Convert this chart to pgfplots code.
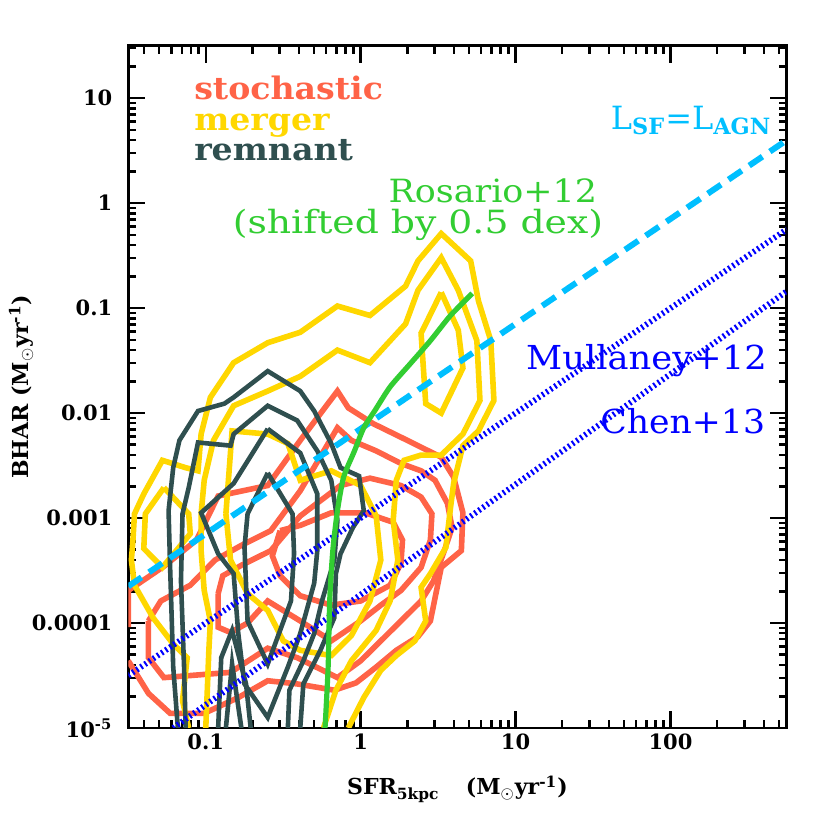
\documentclass[border=0pt]{standalone}
\usepackage{fontspec}
\setmainfont{DejaVu Serif}
\usepackage{pgfplots}
\pgfplotsset{compat=1.18}

\definecolor{stoch}{RGB}{255,99,71}
\definecolor{merg}{RGB}{255,215,0}
\definecolor{remn}{RGB}{47,79,79}
\definecolor{rosa}{RGB}{50,205,50}
\definecolor{lsf}{RGB}{0,191,255}
\definecolor{mull}{RGB}{0,0,255}

\begin{document}
\begin{tikzpicture}
\useasboundingbox (-64.15pt,-51pt) rectangle (350.85pt,364pt);
\begin{axis}[%
width=329.2pt,
height=341.15pt,
scale only axis,
xmin=-1.5, xmax=2.75,
ymin=-5, ymax=1.5,
axis line style={line width=1.3pt},
tick align=inside,
major tick length=8.5pt,
minor tick length=4pt,
every tick/.style={black, line width=1.2pt},
xtick={-1,0,1,2},
xticklabels={0.1,1,10,100},
minor xtick={-1.398,-1.301,-1.222,-1.155,-1.097,-1.046,
  -0.699,-0.523,-0.398,-0.301,-0.222,-0.155,-0.097,-0.046,
  0.301,0.477,0.602,0.699,0.778,0.845,0.903,0.954,
  1.301,1.477,1.602,1.699,1.778,1.845,1.903,1.954,
  2.301,2.477,2.602,2.699},
ytick={-5,-4,-3,-2,-1,0,1},
yticklabels={10\textsuperscript{-5},0.0001,0.001,0.01,0.1,1,10},
minor ytick={-4.699,-4.523,-4.398,-4.301,-4.222,-4.155,-4.097,-4.046,
  -3.699,-3.523,-3.398,-3.301,-3.222,-3.155,-3.097,-3.046,
  -2.699,-2.523,-2.398,-2.301,-2.222,-2.155,-2.097,-2.046,
  -1.699,-1.523,-1.398,-1.301,-1.222,-1.155,-1.097,-1.046,
  -0.699,-0.523,-0.398,-0.301,-0.222,-0.155,-0.097,-0.046,
  0.301,0.477,0.602,0.699,0.778,0.845,0.903,0.954,
  1.301,1.477},
ticklabel style={font=\fontsize{10.5}{12}\selectfont\bfseries},
xticklabel style={anchor=base, yshift=-11pt},
yticklabel style={anchor=east, xshift=-4.5pt},
xlabel={SFR\textsubscript{5kpc}\hspace{1.2em}(M$_\odot$yr\textsuperscript{-1})},
xlabel style={at={([yshift=-33.5pt]axis description cs:0.5,0)}, anchor=base,
  font=\fontsize{11}{13}\selectfont\bfseries},
ylabel={BHAR (M$_\odot$yr\textsuperscript{-1})},
ylabel style={at={([xshift=-50pt]axis description cs:0,0.5)}, anchor=base,
  font=\fontsize{11}{13}\selectfont\bfseries},
]

% stochastic contours
\addplot[stoch, line width=2.8pt] coordinates {
(-1.50,-4.04) (-1.50,-3.69) (-1.27,-3.46) (-1.06,-3.21) (-0.92,-2.79) (-0.60,-2.69)
(-0.39,-2.26) (-0.15,-1.79) (-0.08,-1.95) (0.08,-2.10) (0.26,-2.23) (0.52,-2.42)
(0.60,-2.61) (0.66,-2.95) (0.65,-3.31) (0.52,-3.47) (0.45,-3.98) (0.37,-4.13)
(0.23,-4.26) (0.10,-4.42) (-0.03,-4.57) (-0.17,-4.64) (-0.41,-4.58) (-0.60,-4.55)
(-0.79,-4.71) (-1.01,-4.86) (-1.23,-4.86) (-1.37,-4.67) (-1.50,-4.36)
};
\addplot[stoch, line width=2.8pt] coordinates {
(-1.37,-3.98) (-1.29,-3.79) (-1.10,-3.64) (-0.94,-3.40) (-0.77,-3.26) (-0.58,-3.12)
(-0.39,-2.74) (-0.15,-2.14) (-0.06,-2.26) (0.10,-2.36) (0.26,-2.48) (0.39,-2.55)
(0.48,-2.64) (0.56,-2.86) (0.59,-3.09) (0.54,-3.31) (0.47,-3.60) (0.39,-3.79)
(0.26,-3.98) (0.13,-4.17) (0,-4.36) (-0.15,-4.52) (-0.41,-4.33) (-0.60,-4.24)
(-0.84,-4.47) (-1.27,-4.52) (-1.37,-4.33) (-1.37,-3.98)
};
\addplot[stoch, line width=2.8pt] coordinates {
(-0.92,-3.72) (-0.89,-3.55) (-0.77,-3.45) (-0.58,-3.31) (-0.39,-2.98) (-0.13,-2.69)
(0.06,-2.62) (0.26,-2.69) (0.39,-2.80) (0.46,-2.96) (0.45,-3.21) (0.39,-3.47)
(0.26,-3.69) (0.13,-3.83) (0,-3.98) (-0.19,-4.17) (-0.39,-3.98) (-0.60,-3.79)
(-0.73,-4.00) (-0.84,-4.09) (-0.92,-4.04) (-0.92,-3.72)
};
\addplot[stoch, line width=2.8pt] coordinates {
(-0.52,-3.12) (-0.39,-3.07) (-0.19,-2.95) (0.03,-2.95) (0.21,-3.04) (0.27,-3.21)
(0.26,-3.43) (0.19,-3.64) (0,-3.79) (-0.19,-3.83) (-0.39,-3.74) (-0.52,-3.55)
(-0.57,-3.36) (-0.52,-3.12)
};

% merger contours
\addplot[merg, line width=2.8pt] coordinates {
(-1.11,-5.00) (-1.15,-4.74) (-1.12,-4.33) (-1.21,-4.20) (-1.34,-3.95) (-1.46,-3.64)
(-1.48,-3.40) (-1.47,-3.21) (-1.46,-2.96) (-1.40,-2.77) (-1.28,-2.45) (-1.13,-2.52)
(-1.05,-2.55) (-1.03,-2.20) (-0.97,-1.85) (-0.82,-1.52) (-0.60,-1.33) (-0.39,-1.23)
(-0.15,-0.98) (0.06,-1.07) (0.29,-0.79) (0.37,-0.55) (0.52,-0.29) (0.71,-0.55)
(0.76,-0.93) (0.84,-1.31) (0.86,-1.88) (0.76,-2.17) (0.66,-2.31) (0.60,-2.67)
(0.58,-2.90) (0.55,-3.28) (0.45,-3.53) (0.39,-3.66) (0.42,-3.98) (0.35,-4.17)
(0.23,-4.31) (0.13,-4.45) (0.02,-4.71) (-0.08,-5.00)
};
\addplot[merg, line width=2.8pt] coordinates {
(-1.00,-5.00) (-0.99,-4.64) (-0.98,-4.26) (-0.97,-3.98) (-1.01,-3.69) (-1.03,-3.31)
(-1.03,-2.96) (-1.01,-2.64) (-0.95,-2.26) (-0.82,-1.93) (-0.60,-1.79) (-0.39,-1.65)
(-0.15,-1.40) (0.06,-1.52) (0.29,-1.15) (0.37,-0.83) (0.52,-0.52) (0.63,-0.83)
(0.75,-1.31) (0.77,-1.88) (0.66,-2.20) (0.52,-2.40) (0.39,-2.40) (0.28,-2.45)
(0.23,-2.64) (0.21,-3.02) (0.24,-3.40) (0.19,-3.79) (0.10,-4.07) (-0.06,-4.36)
(-0.16,-4.64) (-0.24,-5.00)
};
\addplot[merg, line width=2.8pt] coordinates {
(-0.87,-2.96) (-0.83,-2.17) (-0.60,-2.20) (-0.47,-2.29) (-0.39,-2.64) (-0.19,-2.55)
(0,-2.69) (0.10,-2.98) (0.13,-3.40) (0.06,-3.79) (-0.06,-4.12) (-0.19,-4.31)
(-0.39,-4.26) (-0.50,-4.17) (-0.60,-3.88) (-0.73,-3.72) (-0.84,-3.40) (-0.87,-2.96)
};
\addplot[merg, line width=2.8pt] coordinates {
(0.52,-0.85) (0.63,-1.21) (0.66,-1.57) (0.52,-2.00) (0.42,-1.91) (0.39,-1.24) (0.52,-0.85)
};
\addplot[merg, line width=2.8pt] coordinates {
(-1.27,-2.71) (-1.39,-2.96) (-1.40,-3.29) (-1.28,-3.47) (-1.10,-3.15) (-1.11,-2.96) (-1.27,-2.71)
};

% remnant contours
\addplot[remn, line width=2.3pt] coordinates {
(-1.18,-5.00) (-1.21,-4.42) (-1.23,-3.47) (-1.24,-2.93) (-1.21,-2.52) (-1.17,-2.26)
(-1.05,-1.98) (-0.88,-1.91) (-0.82,-1.85) (-0.60,-1.60) (-0.39,-1.79) (-0.30,-1.98)
(-0.19,-2.29) (-0.13,-2.52) (-0.01,-2.60) (0.02,-2.93) (-0.05,-3.09) (-0.13,-3.34)
(-0.16,-3.53) (-0.17,-3.95) (-0.26,-4.26) (-0.37,-4.58) (-0.39,-5.00)
};
\addplot[remn, line width=2.3pt] coordinates {
(-1.13,-5.00) (-1.14,-4.42) (-1.16,-3.60) (-1.15,-2.96) (-1.11,-2.71) (-1.05,-2.28)
(-0.84,-2.31) (-0.82,-2.20) (-0.60,-1.93) (-0.41,-2.07) (-0.28,-2.36) (-0.19,-2.64)
(-0.15,-3.02) (-0.17,-3.40) (-0.25,-3.79) (-0.30,-4.10) (-0.37,-4.36) (-0.46,-4.64)
(-0.47,-5.00)
};
\addplot[remn, line width=2.3pt] coordinates {
(-0.60,-2.15) (-0.39,-2.38) (-0.28,-2.77) (-0.28,-3.31) (-0.30,-3.62) (-0.39,-4.10)
(-0.47,-4.42) (-0.60,-4.90) (-0.75,-4.58) (-0.79,-4.10) (-0.82,-3.53) (-0.92,-3.34)
(-1.03,-2.95) (-0.82,-2.67) (-0.60,-2.15)
};
\addplot[remn, line width=2.3pt] coordinates {
(-0.60,-2.57) (-0.44,-2.96) (-0.43,-3.34) (-0.45,-3.79) (-0.60,-4.39) (-0.73,-3.98)
(-0.75,-3.28) (-0.73,-2.96) (-0.60,-2.57)
};
\addplot[remn, line width=2.3pt] coordinates {
(-0.92,-5.00) (-0.90,-4.33) (-0.83,-4.07) (-0.74,-4.58) (-0.71,-5.00)
};
\addplot[remn, line width=2.3pt] coordinates {
(-0.87,-5.00) (-0.83,-4.39) (-0.77,-5.00)
};

% L_SF = L_AGN
\addplot[lsf, line width=3pt, dash pattern=on 8pt off 4.5pt] coordinates {
(-1.5,-3.65) (2.75,0.60)
};
% Mullaney+12 and Chen+13
\addplot[mull, line width=2.9pt, dash pattern=on 1pt off 1.5pt] coordinates {
(-1.5,-4.5) (2.75,-0.25)
};
\addplot[mull, line width=2.9pt, dash pattern=on 1pt off 1.5pt] coordinates {
(-1.21,-5.0) (2.75,-0.84)
};
% Rosario+12 (shifted)
\addplot[rosa, line width=2.6pt, smooth, tension=0.4] coordinates {
(-0.23,-5.00) (-0.21,-4.42) (-0.20,-3.79) (-0.18,-3.31) (-0.15,-2.93) (-0.11,-2.61)
(-0.04,-2.36) (0.02,-2.14) (0.09,-1.98) (0.19,-1.75) (0.32,-1.53) (0.45,-1.31)
(0.58,-1.07) (0.72,-0.86)
};

\node[anchor=base west, inner sep=0, xscale=1.07, text=stoch, font=\fontsize{15.5}{18}\selectfont\bfseries]
  at (axis cs:-1.077,0.992) {stochastic};
\node[anchor=base west, inner sep=0, xscale=1.07, text=merg, font=\fontsize{15.5}{18}\selectfont\bfseries]
  at (axis cs:-1.077,0.690) {merger};
\node[anchor=base west, inner sep=0, xscale=1.07, text=remn, font=\fontsize{15.5}{18}\selectfont\bfseries]
  at (axis cs:-1.077,0.405) {remnant};
\node[anchor=base east, inner sep=0, xscale=1.09, text=rosa, font=\fontsize{16}{19}\selectfont]
  at (axis cs:1.529,0.008) {Rosario+12};
\node[anchor=base east, inner sep=0, xscale=1.18, text=rosa, font=\fontsize{16}{19}\selectfont]
  at (axis cs:1.568,-0.29) {(shifted by 0.5 dex)};
\node[anchor=base west, inner sep=0, text=lsf, font=\fontsize{16}{19}\selectfont]
  at (axis cs:1.613,0.70) {L\textsubscript{\bfseries SF}=L\textsubscript{\bfseries AGN}};
\node[anchor=base east, inner sep=0, xscale=1.07, text=mull, font=\fontsize{16.5}{19}\selectfont]
  at (axis cs:2.624,-1.589) {Mullaney+12};
\node[anchor=base east, inner sep=0, xscale=1.05, text=mull, font=\fontsize{16.5}{19}\selectfont]
  at (axis cs:2.613,-2.198) {Chen+13};
\end{axis}
\end{tikzpicture}
\end{document}
